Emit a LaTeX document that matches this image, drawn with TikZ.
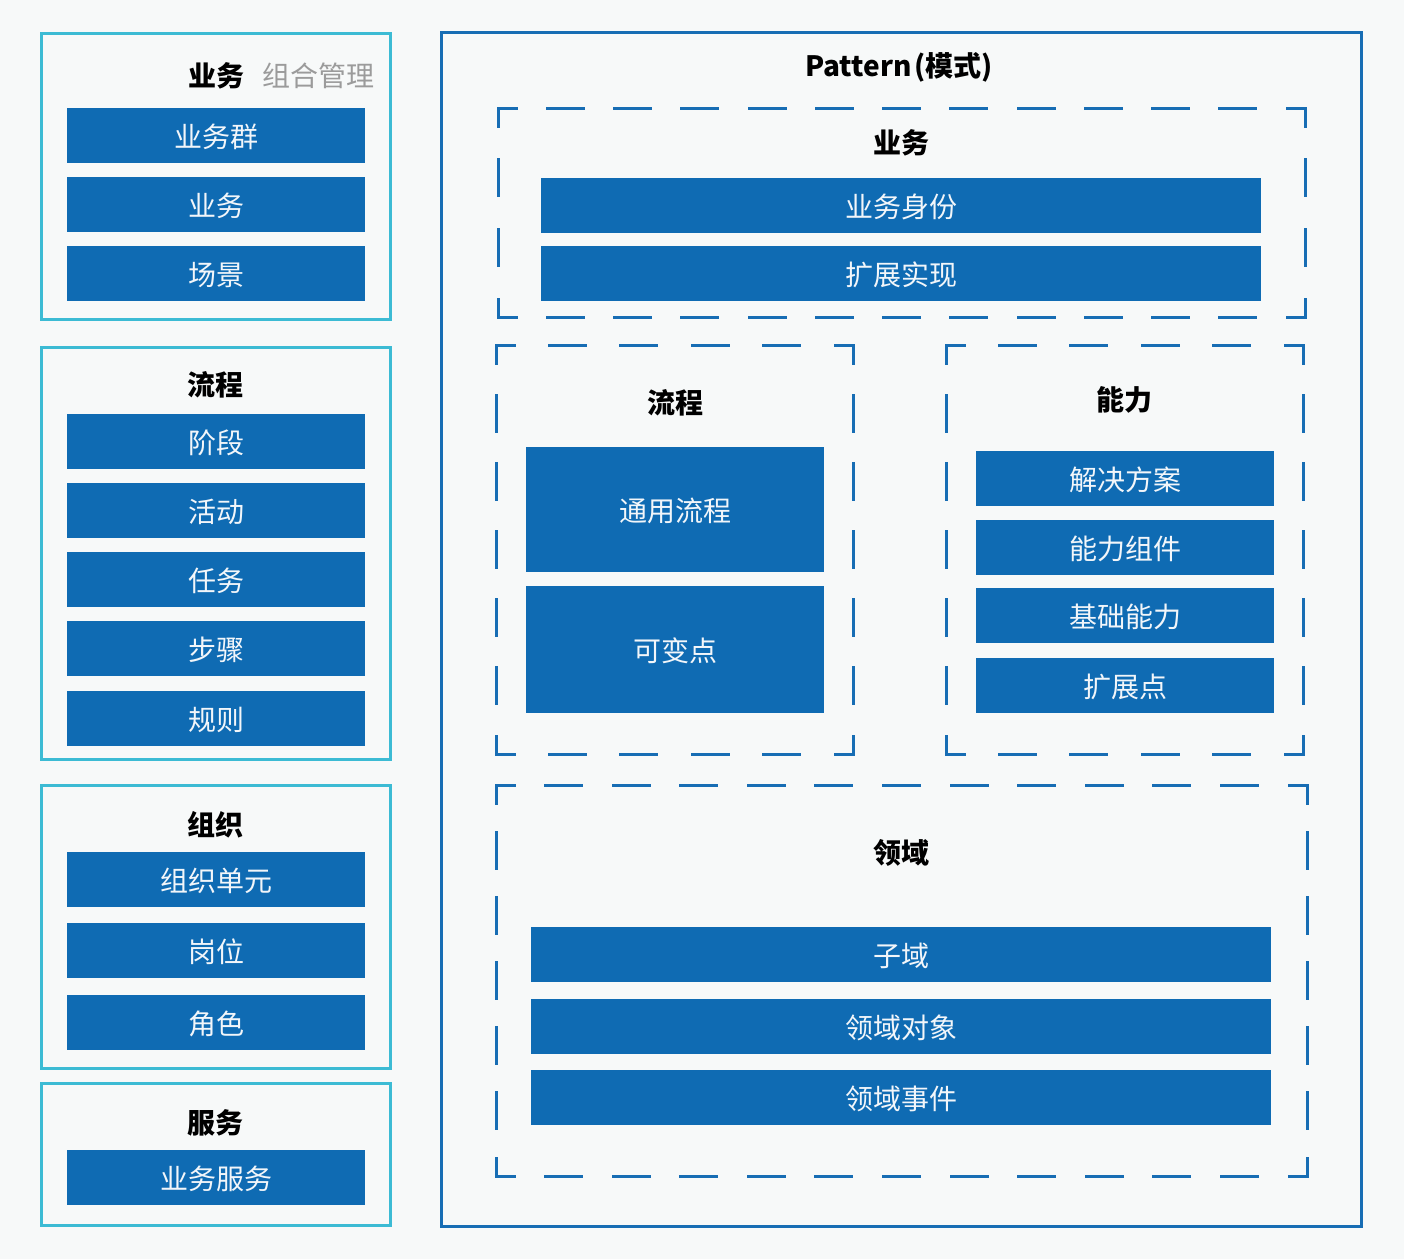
\documentclass[tikz,border=0pt]{standalone}
\usepackage{fontspec}
\setmainfont{Noto Sans CJK SC}
\usetikzlibrary{positioning}
\definecolor{barblue}{HTML}{0F6BB3}
\definecolor{lineblue}{HTML}{176DB4}
\definecolor{cyanline}{HTML}{3CBBD4}
\definecolor{bgcol}{HTML}{F7F9F9}
\definecolor{subgray}{HTML}{9B9B9B}
\definecolor{bartext}{HTML}{F2F6FA}
\newcommand{\dashside}[4]{%
  \pgfmathsetmacro{\dsL}{veclen(#3-#1,#4-#2)}%
  \pgfmathsetmacro{\dsN}{max(1,round(\dsL/67.3))}%
  \pgfmathsetmacro{\dsG}{\dsL/\dsN-36}%
  \draw[dashbox, dash pattern=on 36pt off \dsG pt, dash phase=18pt] (#1,#2) -- (#3,#4);}
\newcommand{\dashrect}[4]{%
  \dashside{#1}{#2}{#3}{#2}\dashside{#3}{#2}{#3}{#4}%
  \dashside{#3}{#4}{#1}{#4}\dashside{#1}{#4}{#1}{#2}}
\tikzset{
  bar/.style={fill=barblue, text=bartext, inner sep=0pt, text height=24.5pt, text depth=0pt,
    font=\fontsize{28}{32}\selectfont},
  leftbox/.style={draw=cyanline, line width=3pt, inner sep=0pt},
  mainbox/.style={draw=lineblue, line width=3pt, inner sep=0pt},
  dashbox/.style={draw=lineblue, line width=3pt, line cap=rect},
  title/.style={font=\fontsize{28}{32}\selectfont\bfseries, text=black, inner sep=0pt},
}
\begin{document}
\begin{tikzpicture}[x=1pt,y=-1pt]
\fill[bgcol] (0,0) rectangle (1404,1259);
\useasboundingbox (0,0) rectangle (1404,1259);

% left containers
\node[leftbox, minimum width=349pt, minimum height=286pt] (gBiz) at (215.5,176) {};
\node[leftbox, minimum width=349pt, minimum height=412pt] (gFlow) at (215.5,553) {};
\node[leftbox, minimum width=349pt, minimum height=283pt] (gOrg) at (215.5,926.5) {};
\node[leftbox, minimum width=349pt, minimum height=142pt] (gSvc) at (215.5,1154) {};

\node[title] (tBiz) at (281,76) {业务\hspace{18pt}{\mdseries\color{subgray}组合管理}};
\node[title] (tFlow) at (215,385) {流程};
\node[title] (tOrg) at (215,825) {组织};
\node[title] (tSvc) at (215,1123) {服务};

\tikzset{lb/.style={bar, minimum width=298pt, minimum height=55pt}}
\node[lb] (b1) at (216,135.5) {业务群};
\node[lb] (b2) at (216,204.5) {业务};
\node[lb] (b3) at (216,273.5) {场景};
\node[lb] (f1) at (216,441.5) {阶段};
\node[lb] (f2) at (216,510.5) {活动};
\node[lb] (f3) at (216,579.5) {任务};
\node[lb] (f4) at (216,648.5) {步骤};
\node[lb] (f5) at (216,718.5) {规则};
\node[lb] (o1) at (216,879.5) {组织单元};
\node[lb] (o2) at (216,950.5) {岗位};
\node[lb] (o3) at (216,1022.5) {角色};
\node[lb] (s1) at (216,1177.5) {业务服务};

% main container
\node[mainbox, minimum width=920pt, minimum height=1194pt] (main) at (901,629) {};
\node[title] (tPattern) at (899,67) {Pattern\hspace{3pt}(模式)};

% dashed groups
\dashrect{498}{108}{1305}{317}
\dashrect{496}{345}{853}{754}
\dashrect{946}{345}{1303}{754}
\dashrect{496}{785}{1307}{1176}

\node[title] (tPBiz) at (901,143) {业务};
\node[title] (tPFlow) at (675,403) {流程};
\node[title] (tPCap) at (1124,400) {能力};
\node[title] (tPDom) at (901,853) {领域};

\node[bar, minimum width=720pt, minimum height=55pt] (pb1) at (901,205.5) {业务身份};
\node[bar, minimum width=720pt, minimum height=55pt] (pb2) at (901,273.5) {扩展实现};

\node[bar, minimum width=298pt, minimum height=125pt] (pf1) at (675,509.5) {通用流程};
\node[bar, minimum width=298pt, minimum height=127pt] (pf2) at (675,649.5) {可变点};

\node[bar, minimum width=298pt, minimum height=55pt] (pc1) at (1125,478.5) {解决方案};
\node[bar, minimum width=298pt, minimum height=55pt] (pc2) at (1125,547.5) {能力组件};
\node[bar, minimum width=298pt, minimum height=55pt] (pc3) at (1125,615.5) {基础能力};
\node[bar, minimum width=298pt, minimum height=55pt] (pc4) at (1125,685.5) {扩展点};

\node[bar, minimum width=740pt, minimum height=55pt] (pd1) at (901,954.5) {子域};
\node[bar, minimum width=740pt, minimum height=55pt] (pd2) at (901,1026.5) {领域对象};
\node[bar, minimum width=740pt, minimum height=55pt] (pd3) at (901,1097.5) {领域事件};
\end{tikzpicture}
\end{document}
